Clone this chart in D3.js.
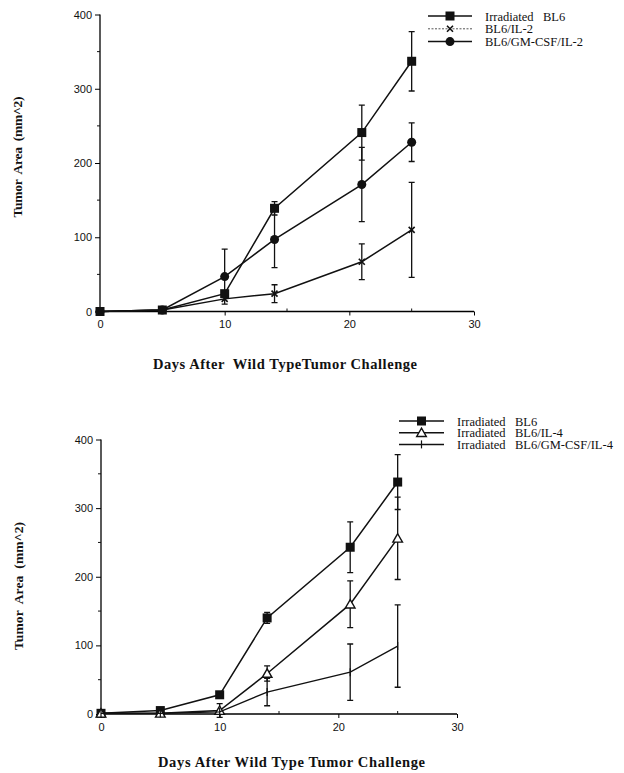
<!DOCTYPE html>
<html>
<head>
<meta charset="utf-8">
<script src="https://cdn.jsdelivr.net/npm/d3@7"></script>
<style>
  body { margin: 0; background: #fff; }
  svg { display: block; }
  .tick text { font-family: "Liberation Sans", Arial, sans-serif; font-size: 11px; fill: #111; }
  .title { font-family: "Liberation Serif", "Times New Roman", serif; font-weight: bold; font-size: 14.5px; fill: #111; }
  .ytitle { font-size: 13.5px; }
  .legend text { font-family: "Liberation Serif", "Times New Roman", serif; font-size: 12.5px; fill: #111; }
</style>
</head>
<body>
<svg id="chart" width="624" height="773"></svg>
<script>
// days measured after challenge
const days = [0, 5, 10, 14, 21, 25];

// panel A (IL-2)
const bl6A = [0, 2, 24, 139, 241, 337];
const bl6AErr = [0, 0, 0, 9, 37, 40];
const il2 = [0, 2, 17, 24, 67, 110];
const il2Err = [0, 0, 0, 12, 24, 64];
const gmIl2 = [0, 2, 47, 97, 171, 228];
const gmIl2Err = [0, 0, 37, 38, 50, 26];

// panel B (IL-4)
const bl6B = [1, 5, 28, 140, 243, 338];
const bl6BErr = [0, 0, 0, 8, 37, 40];
const il4 = [1, 1, 5, 59, 160, 256];
const il4Err = [0, 0, 10, 11, 34, 60];
const gmIl4 = [1, 1, 3, 32, 61, 99];
const gmIl4Err = [0, 0, 0, 20, 41, 60];

const xTicks = [0, 10, 20, 30];
const xMinor = [5, 15, 25];
const yTicks = [0, 100, 200, 300, 400];
const yMinor = [50, 150, 250, 350];

const svg = d3.select("#chart");

function symbol(g, type, cx, cy) {
  if (type === "square") {
    g.append("rect").attr("x", cx - 4.5).attr("y", cy - 4.5)
      .attr("width", 9).attr("height", 9).attr("fill", "#111");
  } else if (type === "circle") {
    g.append("circle").attr("cx", cx).attr("cy", cy).attr("r", 4.5).attr("fill", "#111");
  } else if (type === "triangle") {
    g.append("path").attr("d", d3.symbol(d3.symbolTriangle, 40)())
      .attr("transform", `translate(${cx},${cy + 1})`)
      .attr("fill", "#fff").attr("stroke", "#111").attr("stroke-width", 1.4);
  } else if (type === "cross") {
    g.append("path").attr("d", `M${cx - 3},${cy - 3}L${cx + 3},${cy + 3}M${cx - 3},${cy + 3}L${cx + 3},${cy - 3}`)
      .attr("stroke", "#111").attr("stroke-width", 1.6);
  } else if (type === "plus") {
    g.append("path").attr("d", `M${cx},${cy - 4}V${cy + 4}`)
      .attr("stroke", "#111").attr("stroke-width", 1.2);
  }
}

function panel(opt) {
  const x = d3.scaleLinear().domain([0, 30]).range(opt.xr);
  const y = d3.scaleLinear().domain([0, 400]).range(opt.yr);
  const g = svg.append("g");

  // axes
  g.append("g")
    .attr("transform", `translate(0,${opt.yr[0]})`)
    .call(d3.axisBottom(x).tickValues(xTicks).tickSize(4).tickPadding(5).tickFormat(d3.format("d")))
    .call(a => a.select(".domain").attr("stroke-width", 1.3).attr("d", `M${opt.xr[0]},0H${opt.xr[1]}`));
  g.append("g")
    .attr("transform", `translate(0,${opt.yr[0]})`)
    .selectAll("line").data(xMinor).join("line")
    .attr("x1", d => x(d)).attr("x2", d => x(d)).attr("y1", 0).attr("y2", -3)
    .attr("stroke", "#111");
  g.append("g")
    .attr("transform", `translate(${opt.xr[0]},0)`)
    .call(d3.axisLeft(y).tickValues(yTicks).tickSize(5).tickPadding(3))
    .call(a => a.select(".domain").attr("stroke-width", 1.3).attr("d", `M0,${opt.yr[0]}V${opt.yr[1]}`));
  g.append("g")
    .selectAll("line").data(yMinor).join("line")
    .attr("x1", opt.xr[0] - 3).attr("x2", opt.xr[0]).attr("y1", d => y(d)).attr("y2", d => y(d))
    .attr("stroke", "#111");

  // lines, error bars, markers
  opt.series.forEach(s => {
    const line = d3.line().x((d, i) => x(days[i])).y(d => y(d));
    g.append("path").datum(s.values).attr("d", line)
      .attr("fill", "none").attr("stroke", "#111").attr("stroke-width", s.width || 1.5);
    s.values.forEach((v, i) => {
      const e = s.err[i];
      if (e > 0) {
        const cx = x(days[i]);
        g.append("path")
          .attr("d", `M${cx},${y(v + e)}V${y(v - e)}M${cx - 3},${y(v + e)}h6M${cx - 3},${y(v - e)}h6`)
          .attr("stroke", "#111").attr("stroke-width", 1.3).attr("fill", "none");
      }
      symbol(g, s.marker, x(days[i]), y(v));
    });
  });

  // legend
  const lg = g.append("g").attr("class", "legend");
  opt.series.forEach((s, i) => {
    const ly = opt.legend.y + i * opt.legend.step;
    lg.append("line").attr("x1", opt.legend.x0).attr("x2", opt.legend.x1)
      .attr("y1", ly).attr("y2", ly)
      .attr("stroke", s.legendDash ? "#555" : "#111")
      .attr("stroke-width", s.legendDash ? 1 : 1.5)
      .attr("stroke-dasharray", s.legendDash ? "2,1.5" : null);
    symbol(lg, s.marker, (opt.legend.x0 + opt.legend.x1) / 2, ly);
    lg.append("text").attr("x", opt.legend.tx).attr("y", ly + 4.5)
      .attr("xml:space", "preserve").text(s.name);
  });

  // titles
  g.append("text").attr("class", "title ytitle")
    .attr("transform", `translate(${opt.ylabel[0]},${opt.ylabel[1]}) rotate(-90)`)
    .attr("text-anchor", "middle").attr("xml:space", "preserve")
    .attr("textLength", opt.ylabel[2]).attr("lengthAdjust", "spacing")
    .text("Tumor  Area  (mm^2)");
  g.append("text").attr("class", "title")
    .attr("x", opt.xlabel[0]).attr("y", opt.xlabel[1])
    .attr("xml:space", "preserve")
    .attr("textLength", opt.xlabel[2]).attr("lengthAdjust", "spacing")
    .text(opt.xtitle);
}

panel({
  xr: [100, 474], yr: [311.5, 14.5],
  series: [
    { name: "Irradiated   BL6", values: bl6A, err: bl6AErr, marker: "square" },
    { name: "BL6/IL-2", values: il2, err: il2Err, marker: "cross", legendDash: true },
    { name: "BL6/GM-CSF/IL-2", values: gmIl2, err: gmIl2Err, marker: "circle" }
  ],
  legend: { x0: 428, x1: 472, tx: 485, y: 16, step: 12.8 },
  ylabel: [22, 157, 121], xlabel: [153, 369, 264],
  xtitle: "Days After  Wild TypeTumor Challenge"
});

panel({
  xr: [101, 457], yr: [714, 439.5],
  series: [
    { name: "Irradiated   BL6", values: bl6B, err: bl6BErr, marker: "square" },
    { name: "Irradiated   BL6/IL-4", values: il4, err: il4Err, marker: "triangle" },
    { name: "Irradiated   BL6/GM-CSF/IL-4", values: gmIl4, err: gmIl4Err, marker: "plus", width: 1.3 }
  ],
  legend: { x0: 399, x1: 444, tx: 457, y: 421, step: 11.7 },
  ylabel: [23, 586, 128], xlabel: [158, 767, 267],
  xtitle: "Days After Wild Type Tumor Challenge"
});
</script>
</body>
</html>
